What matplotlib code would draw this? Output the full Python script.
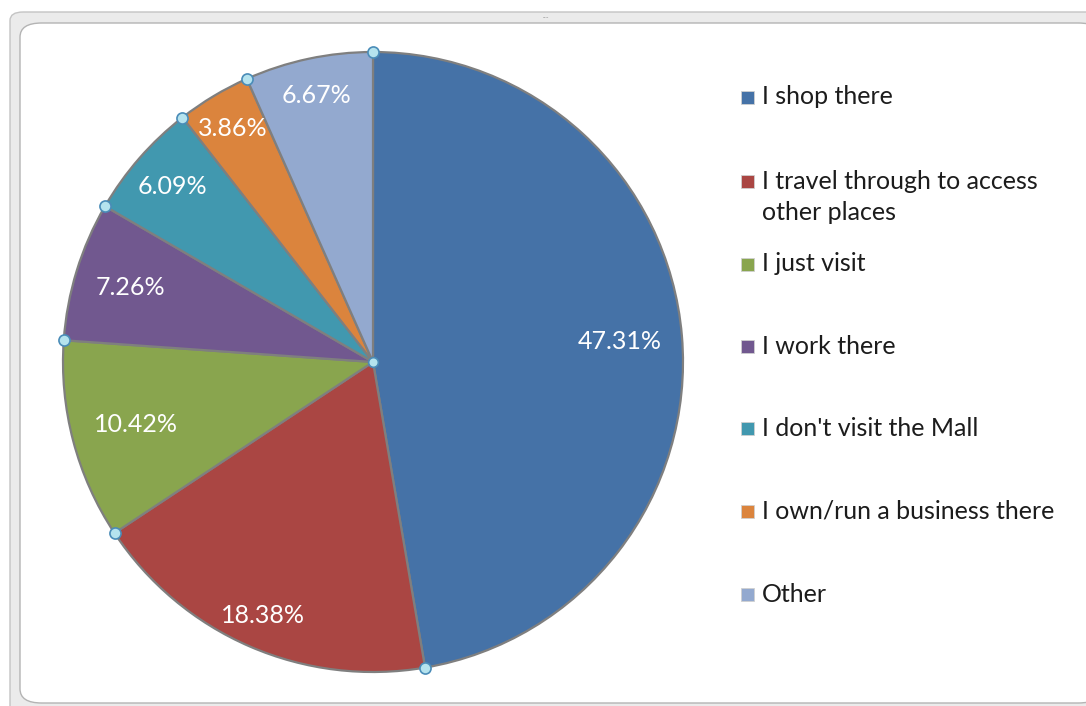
import numpy as np
import matplotlib.pyplot as plt
from matplotlib.patches import FancyBboxPatch, Rectangle

labels = ["I shop there", "I travel through to access\nother places", "I just visit",
          "I work there", "I don't visit the Mall", "I own/run a business there", "Other"]
values = [47.31, 18.38, 10.42, 7.26, 6.09, 3.86, 6.67]
colors = ["#4572A7", "#AA4643", "#89A54E", "#71588F", "#4198AF", "#DB843D", "#93A9CF"]

# how far out each percentage sits (excel best fit, roughly)
label_dist = [0.80, 0.89, 0.79, 0.82, 0.86, 0.88, 0.88]
# legend rows, in pixels from the top
legend_y = [97, 197, 264, 346, 428, 511, 594]

plt.rcParams['font.family'] = ['Lato', 'DejaVu Sans']

W, H = 1086, 706
fig = plt.figure(figsize=(W / 100, H / 100), dpi=100)

# excel chart frame
outer = FancyBboxPatch((10 / W, 1 - 716 / H), 1090 / W, 704 / H,
                       boxstyle="round,pad=0,rounding_size=0.012",
                       transform=fig.transFigure, facecolor="#ebebeb",
                       edgecolor="#c4c4c4", lw=1.0, zorder=0)
inner = FancyBboxPatch((20 / W, 1 - 703 / H), 1080 / W, 680 / H,
                       boxstyle="round,pad=0,rounding_size=0.02",
                       transform=fig.transFigure, facecolor="white",
                       edgecolor="#b4b4b4", lw=1.0, zorder=0)
fig.patches.extend([outer, inner])
fig.text(546 / W, 1 - 16 / H, "....", fontsize=5, color="#999999",
         ha="center", va="center")

cx, cy, r = 373, 362, 310
ax = fig.add_axes([(cx - r) / W, 1 - (cy + r) / H, 2 * r / W, 2 * r / H])
ax.set_zorder(5)

wedges, _ = ax.pie(values, colors=colors, startangle=90, counterclock=False,
                   radius=1.0, wedgeprops=dict(edgecolor="#7f7f7f", linewidth=1.6))
ax.set_xlim(-1, 1)
ax.set_ylim(-1, 1)
ax.axis("off")

for w, v, d in zip(wedges, values, label_dist):
    mid = np.deg2rad((w.theta1 + w.theta2) / 2)
    ax.text(d * np.cos(mid), d * np.sin(mid), f"{v:.2f}%", color="white",
            fontsize=18, ha="center", va="center")

# selection handles at slice edges and the center
edges = np.deg2rad(90 - np.cumsum([0] + values[:-1]) * 3.6)
ax.plot(np.cos(edges), np.sin(edges), "o", ms=8, mfc="#b5e3ee", mec="#4a8cb8",
        mew=1.2, clip_on=False)
ax.plot([0], [0], "o", ms=7, mfc="#b5e3ee", mec="#4a8cb8", mew=1.2)

# legend drawn by hand to match excel's spacing
for lab, col, y in zip(labels, colors, legend_y):
    nlines = lab.count("\n") + 1
    ytop = y - (nlines - 1) * 16
    fig.patches.append(Rectangle((741 / W, 1 - (ytop + 7) / H), 13 / W, 13 / H,
                                 transform=fig.transFigure, facecolor=col,
                                 edgecolor="#d0d0d0", lw=0.6, zorder=3))
    fig.text(762 / W, 1 - y / H, lab, fontsize=18, color="#1c1c1c",
             ha="left", va="center", linespacing=1.45)

fig.savefig("out.png", dpi=100)
